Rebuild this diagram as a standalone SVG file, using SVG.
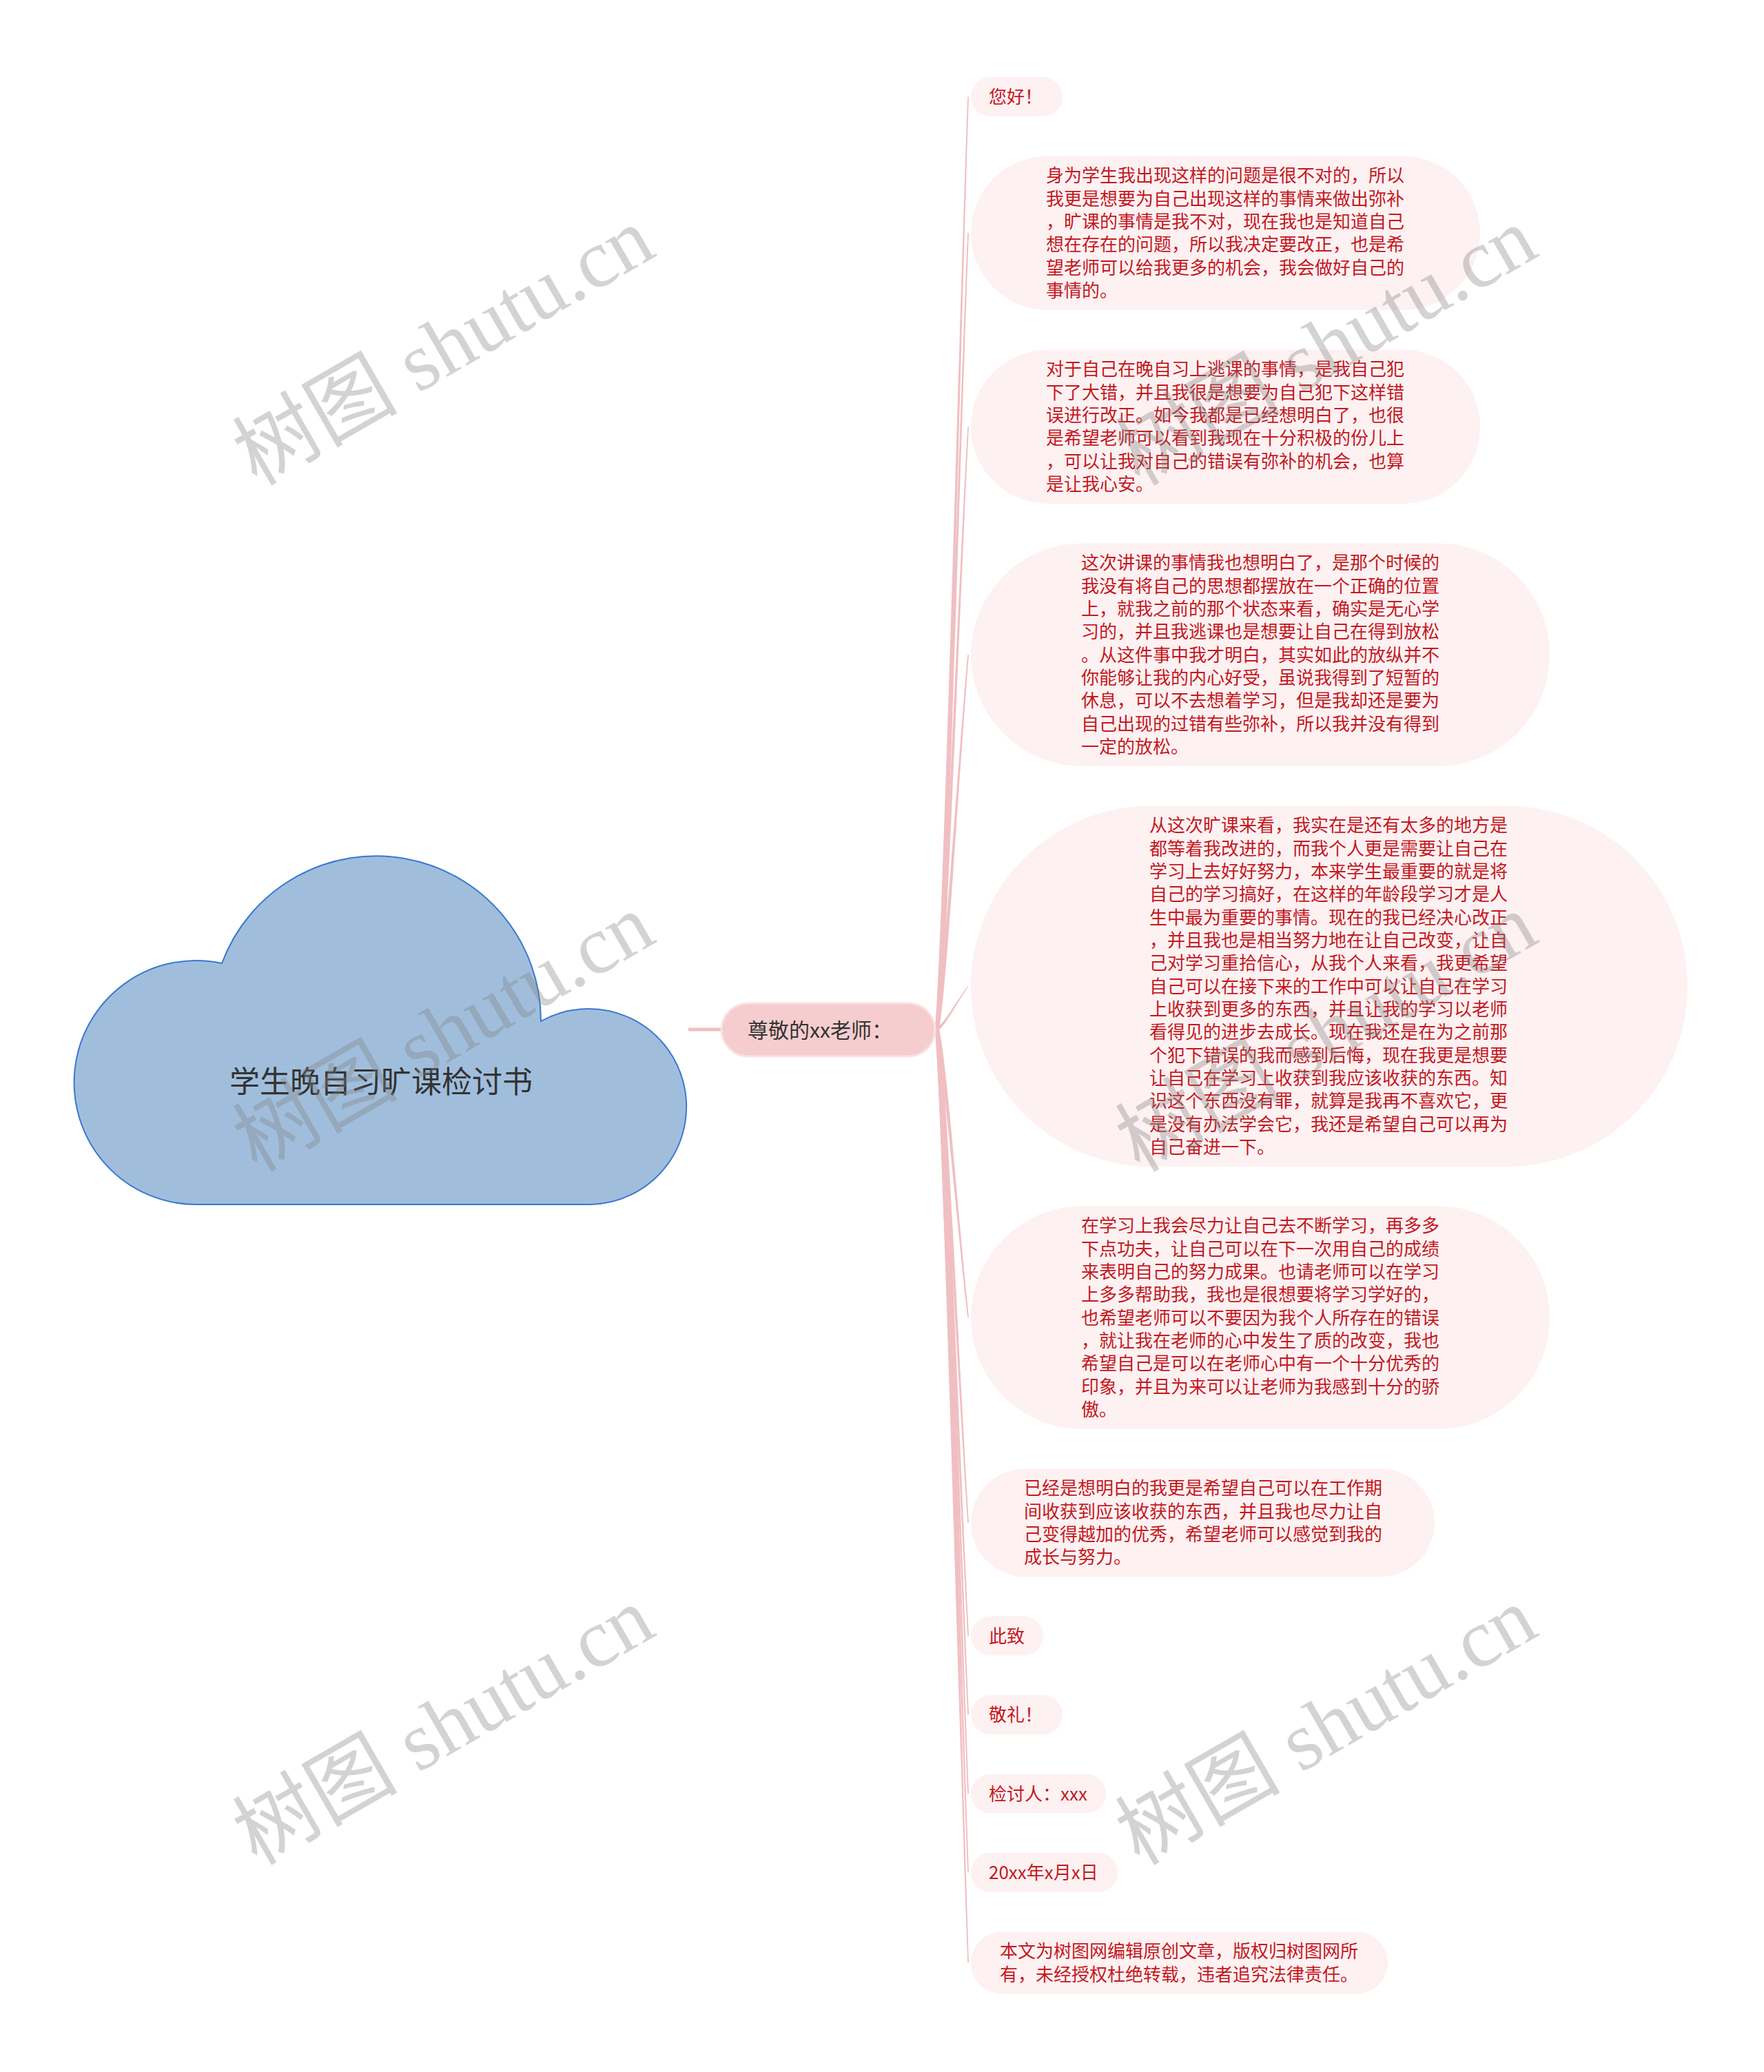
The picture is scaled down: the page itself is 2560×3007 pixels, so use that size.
<svg xmlns="http://www.w3.org/2000/svg" width="2560" height="3007" viewBox="0 0 2560 3007">
<style>
.bg{fill:#ffffff}
.box{fill:#fdf1f2}
.t{font-family:"Noto Sans CJK SC","Noto Sans",sans-serif;font-size:26px;fill:#c3191f}
.br{fill:#f0bfc2}
.wm{font-family:"Liberation Serif","Noto Sans CJK SC",serif;font-size:120px;fill:#808080;fill-opacity:0.35}
</style>
<rect class="bg" x="0" y="0" width="2560" height="3007"/>

<g id="connectors">
<line x1="999" y1="1494" x2="1049" y2="1494" stroke="#f0bfc2" stroke-width="5"/>
<path class="br" d="M1357 1494 C1369.5 1331.6 1389.5 546.5 1404.2 140.5 L1406 140.5 C1392.5 546.5 1374.5 1331.6 1363 1494 Z"/>
<path class="br" d="M1357 1494 C1369.5 1355.3 1389.5 685 1404.2 338.25 L1406 338.25 C1392.5 685 1374.5 1355.3 1363 1494 Z"/>
<path class="br" d="M1357 1494 C1369.5 1389 1389.5 881.7 1404.2 619.25 L1406 619.25 C1392.5 881.7 1374.5 1389 1363 1494 Z"/>
<path class="br" d="M1357 1494 C1369.5 1428.75 1389.5 1113.4 1404.2 950.25 L1406 950.25 C1392.5 1113.4 1374.5 1428.75 1363 1494 Z"/>
<path class="br" d="M1360 1491 C1372 1483.5 1391 1448 1405 1430.4 L1405 1432.1 C1391 1452 1372 1489.5 1360 1497 Z"/>
<path class="br" d="M1357 1494 C1369.5 1544.2 1389.5 1786.8 1404.2 1912.25 L1406 1912.25 C1392.5 1786.8 1374.5 1544.2 1363 1494 Z"/>
<path class="br" d="M1357 1494 C1369.5 1579.9 1389.5 1995.1 1404.2 2209.9 L1406 2209.9 C1392.5 1995.1 1374.5 1579.9 1363 1494 Z"/>
<path class="br" d="M1357 1494 C1369.5 1599.6 1389.5 2110 1404.2 2374 L1406 2374 C1392.5 2110 1374.5 1599.6 1363 1494 Z"/>
<path class="br" d="M1357 1494 C1369.5 1613.3 1389.5 2190.2 1404.2 2488.5 L1406 2488.5 C1392.5 2190.2 1374.5 1613.3 1363 1494 Z"/>
<path class="br" d="M1357 1494 C1369.5 1627.1 1389.5 2270.3 1404.2 2603 L1406 2603 C1392.5 2270.3 1374.5 1627.1 1363 1494 Z"/>
<path class="br" d="M1357 1494 C1369.5 1640.8 1389.5 2350.5 1404.2 2717.5 L1406 2717.5 C1392.5 2350.5 1374.5 1640.8 1363 1494 Z"/>
<path class="br" d="M1357 1494 C1369.5 1656.6 1389.5 2442.2 1404.2 2848.6 L1406 2848.6 C1392.5 2442.2 1374.5 1656.6 1363 1494 Z"/>
</g>

<g id="root">
<path d="M285 1748 A177 177 0 1 1 322 1398 A239 239 0 0 1 785 1482 A142 142 0 1 1 857 1748 Z" fill="#a0bedc" stroke="#3a78d0" stroke-width="2"/>
<text x="553" y="1586" text-anchor="middle" style="font-family:'Noto Sans CJK SC','Noto Sans',sans-serif;font-size:44px;fill:#333333">学生晚自习旷课检讨书</text>
</g>

<g id="main">
<rect x="1047" y="1456" width="310" height="77" rx="38.5" fill="#f5cdce" stroke="#fbe2e3" stroke-width="3"/>
<text x="1085" y="1505.5" style="font-family:'Noto Sans CJK SC','Noto Sans',sans-serif;font-size:30px;fill:#333333">尊敬的xx老师：</text>
</g>

<g id="n1">
<rect class="box" x="1409" y="112" width="133" height="57" rx="28.5"/>
<text class="t" x="1435" y="150">您好！</text>
</g>

<g id="n2">
<rect class="box" x="1409" y="226.5" width="739" height="223.5" rx="111.75"/>
<text class="t" y="264.4"><tspan x="1518">身为学生我出现这样的问题是很不对的，所以</tspan><tspan x="1518" dy="33.33">我更是想要为自己出现这样的事情来做出弥补</tspan><tspan x="1518" dy="33.33">，旷课的事情是我不对，现在我也是知道自己</tspan><tspan x="1518" dy="33.33">想在存在的问题，所以我决定要改正，也是希</tspan><tspan x="1518" dy="33.33">望老师可以给我更多的机会，我会做好自己的</tspan><tspan x="1518" dy="33.33">事情的。</tspan></text>
</g>

<g id="n3">
<rect class="box" x="1409" y="507.5" width="739" height="223.5" rx="111.75"/>
<text class="t" y="545.4"><tspan x="1518">对于自己在晚自习上逃课的事情，是我自己犯</tspan><tspan x="1518" dy="33.33">下了大错，并且我很是想要为自己犯下这样错</tspan><tspan x="1518" dy="33.33">误进行改正。如今我都是已经想明白了，也很</tspan><tspan x="1518" dy="33.33">是希望老师可以看到我现在十分积极的份儿上</tspan><tspan x="1518" dy="33.33">，可以让我对自己的错误有弥补的机会，也算</tspan><tspan x="1518" dy="33.33">是让我心安。</tspan></text>
</g>

<g id="n4">
<rect class="box" x="1409" y="788.5" width="840" height="323.5" rx="161.75"/>
<text class="t" y="826.4"><tspan x="1569">这次讲课的事情我也想明白了，是那个时候的</tspan><tspan x="1569" dy="33.33">我没有将自己的思想都摆放在一个正确的位置</tspan><tspan x="1569" dy="33.33">上，就我之前的那个状态来看，确实是无心学</tspan><tspan x="1569" dy="33.33">习的，并且我逃课也是想要让自己在得到放松</tspan><tspan x="1569" dy="33.33">。从这件事中我才明白，其实如此的放纵并不</tspan><tspan x="1569" dy="33.33">你能够让我的内心好受，虽说我得到了短暂的</tspan><tspan x="1569" dy="33.33">休息，可以不去想着学习，但是我却还是要为</tspan><tspan x="1569" dy="33.33">自己出现的过错有些弥补，所以我并没有得到</tspan><tspan x="1569" dy="33.33">一定的放松。</tspan></text>
</g>

<g id="n5">
<rect class="box" x="1409" y="1169.5" width="1040" height="523.5" rx="261.75"/>
<text class="t" y="1207.4"><tspan x="1668">从这次旷课来看，我实在是还有太多的地方是</tspan><tspan x="1668" dy="33.33">都等着我改进的，而我个人更是需要让自己在</tspan><tspan x="1668" dy="33.33">学习上去好好努力，本来学生最重要的就是将</tspan><tspan x="1668" dy="33.33">自己的学习搞好，在这样的年龄段学习才是人</tspan><tspan x="1668" dy="33.33">生中最为重要的事情。现在的我已经决心改正</tspan><tspan x="1668" dy="33.33">，并且我也是相当努力地在让自己改变，让自</tspan><tspan x="1668" dy="33.33">己对学习重拾信心，从我个人来看，我更希望</tspan><tspan x="1668" dy="33.33">自己可以在接下来的工作中可以让自己在学习</tspan><tspan x="1668" dy="33.33">上收获到更多的东西，并且让我的学习以老师</tspan><tspan x="1668" dy="33.33">看得见的进步去成长。现在我还是在为之前那</tspan><tspan x="1668" dy="33.33">个犯下错误的我而感到后悔，现在我更是想要</tspan><tspan x="1668" dy="33.33">让自己在学习上收获到我应该收获的东西。知</tspan><tspan x="1668" dy="33.33">识这个东西没有罪，就算是我再不喜欢它，更</tspan><tspan x="1668" dy="33.33">是没有办法学会它，我还是希望自己可以再为</tspan><tspan x="1668" dy="33.33">自己奋进一下。</tspan></text>
</g>

<g id="n6">
<rect class="box" x="1409" y="1750.5" width="840" height="323.5" rx="161.75"/>
<text class="t" y="1788.4"><tspan x="1569">在学习上我会尽力让自己去不断学习，再多多</tspan><tspan x="1569" dy="33.33">下点功夫，让自己可以在下一次用自己的成绩</tspan><tspan x="1569" dy="33.33">来表明自己的努力成果。也请老师可以在学习</tspan><tspan x="1569" dy="33.33">上多多帮助我，我也是很想要将学习学好的，</tspan><tspan x="1569" dy="33.33">也希望老师可以不要因为我个人所存在的错误</tspan><tspan x="1569" dy="33.33">，就让我在老师的心中发生了质的改变，我也</tspan><tspan x="1569" dy="33.33">希望自己是可以在老师心中有一个十分优秀的</tspan><tspan x="1569" dy="33.33">印象，并且为来可以让老师为我感到十分的骄</tspan><tspan x="1569" dy="33.33">傲。</tspan></text>
</g>

<g id="n7">
<rect class="box" x="1409" y="2131.5" width="673" height="156.8" rx="78.4"/>
<text class="t" y="2169.4"><tspan x="1486">已经是想明白的我更是希望自己可以在工作期</tspan><tspan x="1486" dy="33.33">间收获到应该收获的东西，并且我也尽力让自</tspan><tspan x="1486" dy="33.33">己变得越加的优秀，希望老师可以感觉到我的</tspan><tspan x="1486" dy="33.33">成长与努力。</tspan></text>
</g>

<g id="n8">
<rect class="box" x="1409" y="2345.5" width="105" height="57" rx="28.5"/>
<text class="t" x="1435" y="2383.5">此致</text>
</g>

<g id="n9">
<rect class="box" x="1409" y="2460" width="133" height="57" rx="28.5"/>
<text class="t" x="1435" y="2498">敬礼！</text>
</g>

<g id="n10">
<rect class="box" x="1409" y="2574.5" width="196" height="57" rx="28.5"/>
<text class="t" x="1435" y="2612.5">检讨人：xxx</text>
</g>

<g id="n11">
<rect class="box" x="1409" y="2689" width="213" height="57" rx="28.5"/>
<text class="t" x="1435" y="2727">20xx年x月x日</text>
</g>

<g id="n12">
<rect class="box" x="1409" y="2803.5" width="605" height="90.2" rx="45.1"/>
<text class="t" y="2841.4"><tspan x="1451">本文为树图网编辑原创文章，版权归树图网所</tspan><tspan x="1451" dy="33.33">有，未经授权杜绝转载，违者追究法律责任。</tspan></text>
</g>

<g id="watermarks">
<text class="wm" text-anchor="middle" transform="translate(664 538) rotate(-30)">树图 shutu.cn</text>
<text class="wm" text-anchor="middle" transform="translate(1945 538) rotate(-30)">树图 shutu.cn</text>
<text class="wm" text-anchor="middle" transform="translate(664 1534) rotate(-30)">树图 shutu.cn</text>
<text class="wm" text-anchor="middle" transform="translate(1945 1534) rotate(-30)">树图 shutu.cn</text>
<text class="wm" text-anchor="middle" transform="translate(664 2540) rotate(-30)">树图 shutu.cn</text>
<text class="wm" text-anchor="middle" transform="translate(1945 2540) rotate(-30)">树图 shutu.cn</text>
</g>
</svg>
